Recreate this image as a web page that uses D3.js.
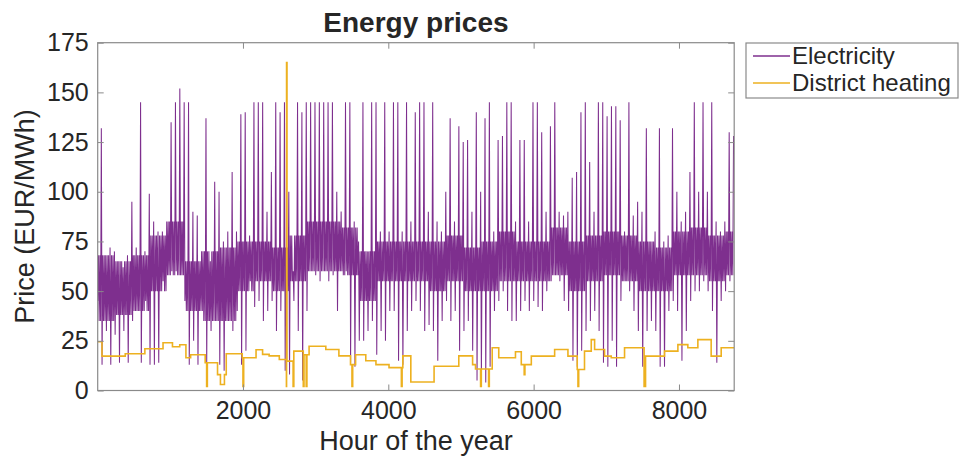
<!DOCTYPE html>
<html>
<head>
<meta charset="utf-8">
<script src="https://cdn.jsdelivr.net/npm/d3@7/dist/d3.min.js"></script>
<style>
  body { margin: 0; background: #fff; }
  text { font-family: "Liberation Sans", Arial, Helvetica, sans-serif; fill: #262626; }
</style>
</head>
<body>
<div id="chart"></div>
<script>
// DATA
// electricity: min and max price inside each 60 hour block of the year
const elecBlock = 60;
const elecLow = [
  45, 13, 30, 13, 28, 14, 30, 14, 35, 40,
  14, 45, 13, 13, 14, 55, 58, 60, 60, 58,
  45, 13, 25, 13, 40, 13, 30, 35, 13, 10,
  35, 30, 40, 13, 20, 55, 42, 45, 35, 40,
  45, 30, 40, 10, 8, 45, 30, 5, 40, 60,
  58, 55, 60, 55, 58, 40, 60, 60, 14, 12,
  25, 25, 30, 35, 18, 30, 25, 40, 40, 15,
  13, 30, 40, 45, 40, 30, 33, 30, 15, 35,
  45, 35, 40, 20, 30, 35, 20, 5, 5, 4,
  12, 40, 45, 50, 40, 35, 35, 40, 45, 40,
  45, 42, 40, 50, 55, 58, 55, 45, 40, 15,
  12, 20, 30, 35, 40, 30, 14, 12, 25, 12,
  45, 55, 50, 40, 30, 12, 30, 35, 30, 12,
  12, 40, 45, 40, 15, 30, 45, 50, 50, 55,
  50, 40, 14, 45, 50, 55
];
const elecHigh = [
  132, 68, 72, 70, 65, 62, 68, 95, 72, 145,
  70, 99, 85, 80, 80, 85, 135, 145, 152, 145,
  145, 90, 88, 70, 137, 65, 105, 100, 75, 80,
  110, 80, 139, 140, 78, 145, 145, 145, 90, 110,
  145, 140, 145, 100, 60, 145, 140, 145, 145, 145,
  145, 145, 145, 145, 100, 90, 145, 145, 85, 75,
  145, 70, 145, 145, 80, 145, 80, 145, 145, 80,
  145, 85, 140, 145, 145, 90, 145, 85, 80, 100,
  137, 85, 133, 125, 126, 90, 140, 100, 137, 145,
  80, 126, 128, 145, 145, 85, 126, 126, 85, 145,
  145, 130, 90, 133, 145, 90, 88, 90, 107, 110,
  140, 145, 115, 90, 145, 145, 138, 143, 143, 136,
  80, 145, 88, 95, 90, 132, 75, 80, 132, 75,
  78, 132, 100, 85, 90, 110, 145, 100, 145, 100,
  145, 85, 80, 85, 130, 128
];
// electricity: dense daily range (core band) per 240 hour block
const coreBlock = 240;
const coreLow = [
  35, 38, 40, 50, 58, 40, 35, 35, 50, 55,
  50, 55, 60, 60, 58, 45, 55, 55, 55, 50,
  55, 50, 50, 55, 55, 55, 58, 50, 55, 58,
  55, 50, 50, 58, 58, 55, 58
];
const coreHigh = [
  68, 65, 68, 78, 85, 65, 70, 72, 75, 75,
  72, 78, 85, 85, 82, 70, 75, 75, 75, 75,
  78, 72, 75, 80, 75, 75, 82, 75, 78, 80,
  78, 75, 72, 80, 82, 78, 80
];
// district heating: step changes (hour where a new price starts)
const heatHour = [
  1, 60, 380, 650, 900, 1030, 1130, 1215, 1280, 1480,
  1500, 1510, 1650, 1690, 1745, 1770, 1990, 2000, 2010, 2180,
  2270, 2360, 2500, 2598, 2600, 2606, 2690, 2700, 2830, 2840,
  2870, 2880, 2910, 3140, 3320, 3480, 3500, 3510, 3550, 3690,
  3830, 4010, 4180, 4190, 4200, 4310, 4630, 4970, 5160, 5200,
  5270, 5280, 5380, 5390, 5430, 5520, 5750, 5830, 5870, 5880,
  5968, 6289, 6472, 6600, 6610, 6620, 6700, 6793, 6839, 6976,
  7068, 7251, 7520, 7540, 7801, 7985, 8122, 8260, 8443, 8581,
  8760
];
const heatPrice = [
  24.5, 17.3, 18.5, 21, 24, 22, 23, 16.5, 18, 14,
  2, 14, 8, 3, 8, 18.5, 16.5, 2, 16.5, 20.5,
  18.2, 17.4, 15.6, 2, 165, 14.8, 2, 19.8, 2, 18,
  2, 18, 22.3, 20.6, 17.4, 13, 2, 13, 18, 15,
  13, 11.5, 2, 11.5, 17.4, 4.3, 12.2, 17.4, 13, 10.8,
  2, 10.8, 2, 10.8, 21.5, 16.5, 19.5, 13, 8, 13,
  17.3, 20.6, 17.3, 10.6, 2, 10.6, 19.8, 25.6, 20.6, 17.3,
  16.5, 21.5, 2, 17.3, 19.8, 23.1, 21.5, 25.6, 17.3, 21.5,
  21.5
];
const xTicks = [2000, 4000, 6000, 8000];
const yTicks = [0, 25, 50, 75, 100, 125, 150, 175];
const seriesNames = ['Electricity', 'District heating'];
const seriesColors = ['#7E2F8E', '#EDB120'];

document.addEventListener('DOMContentLoaded', function(){
  drawChart();
});

function drawChart() {
  const width = 960, height = 459;
  const plot = {left: 97.7, right: 734.2, top: 42.7, bottom: 390.5};

  let svg = d3.select('#chart').append('svg')
    .attr('width', width)
    .attr('height', height);

  let x = d3.scaleLinear().domain([1, 8760]).range([plot.left, plot.right]);
  let y = d3.scaleLinear().domain([0, 175]).range([plot.bottom, plot.top]);

  svg.append('clipPath').attr('id', 'clip')
    .append('rect')
    .attr('x', plot.left).attr('y', plot.top - 30)
    .attr('width', plot.right - plot.left).attr('height', plot.bottom - plot.top + 30);

  let g = svg.append('g').attr('clip-path', 'url(#clip)');

  // electricity: each 60 h block goes from its low, through the core band, to its high
  let elec = [];
  elecLow.forEach((lo, i) => {
    let h0 = i * elecBlock + 1;
    let c = Math.floor(i * elecBlock / coreBlock);
    elec.push({h: h0, v: lo});
    elec.push({h: h0 + 10, v: coreHigh[c]});
    elec.push({h: h0 + 20, v: coreLow[c]});
    elec.push({h: h0 + 30, v: coreHigh[c]});
    elec.push({h: h0 + 40, v: coreLow[c]});
    elec.push({h: h0 + 50, v: elecHigh[i]});
  });
  g.append('path')
    .datum(elec)
    .attr('fill', 'none')
    .attr('stroke', seriesColors[0])
    .attr('stroke-width', 1.05)
    .attr('d', d3.line().x(d => x(d.h)).y(d => y(d.v)));

  // district heating steps
  let heat = heatHour.map((h, i) => ({h: h, v: heatPrice[i]}));
  g.append('path')
    .datum(heat)
    .attr('fill', 'none')
    .attr('stroke', seriesColors[1])
    .attr('stroke-width', 1.6)
    .attr('d', d3.line().curve(d3.curveStepAfter).x(d => x(d.h)).y(d => y(d.v)));

  // AXIS (matlab style box with inward ticks)
  const axisColor = '#8a8a8a';
  const tickFont = 25;

  let xAx = svg.append('g').attr('transform', 'translate(0,' + plot.bottom + ')')
    .call(d3.axisBottom(x).tickValues(xTicks).tickSize(-6).tickPadding(11).tickFormat(d3.format('d')));
  let xTop = svg.append('g').attr('transform', 'translate(0,' + plot.top + ')')
    .call(d3.axisTop(x).tickValues(xTicks).tickSize(-6).tickFormat(''));
  let yAx = svg.append('g').attr('transform', 'translate(' + plot.left + ',0)')
    .call(d3.axisLeft(y).tickValues(yTicks).tickSize(-6).tickPadding(9));
  let yRight = svg.append('g').attr('transform', 'translate(' + plot.right + ',0)')
    .call(d3.axisRight(y).tickValues(yTicks).tickSize(-6).tickFormat(''));

  [xAx, xTop, yAx, yRight].forEach(a => {
    a.select('.domain').remove();
    a.selectAll('line').attr('stroke', axisColor);
    a.selectAll('text').style('font-size', tickFont + 'px').attr('fill', '#262626');
  });

  svg.append('rect')
    .attr('x', plot.left).attr('y', plot.top)
    .attr('width', plot.right - plot.left).attr('height', plot.bottom - plot.top)
    .attr('fill', 'none').attr('stroke', axisColor).attr('stroke-width', 1.2);

  // Labels
  svg.append('text')
    .attr('x', (plot.left + plot.right) / 2).attr('y', 32)
    .attr('text-anchor', 'middle')
    .style('font-size', '28px').style('font-weight', 'bold')
    .text('Energy prices');
  svg.append('text')
    .attr('x', (plot.left + plot.right) / 2).attr('y', 450)
    .attr('text-anchor', 'middle')
    .style('font-size', '27px')
    .text('Hour of the year');
  svg.append('text')
    .attr('transform', 'translate(34,' + ((plot.top + plot.bottom) / 2) + ') rotate(-90)')
    .attr('text-anchor', 'middle')
    .style('font-size', '27px')
    .text('Price (EUR/MWh)');

  // Legend
  let legend = svg.append('g').classed('legend', true);
  legend.append('rect')
    .attr('x', 746).attr('y', 43).attr('width', 212).attr('height', 55)
    .attr('fill', '#fff').attr('stroke', axisColor).attr('stroke-width', 1.2);
  seriesNames.forEach((name, i) => {
    let ly = 56 + i * 27;
    legend.append('line')
      .attr('x1', 753).attr('x2', 790).attr('y1', ly).attr('y2', ly)
      .attr('stroke', seriesColors[i]).attr('stroke-width', 1.3);
    legend.append('text')
      .attr('x', 792).attr('y', ly + 8)
      .style('font-size', '24px')
      .text(name);
  });
}
</script>
</body>
</html>
